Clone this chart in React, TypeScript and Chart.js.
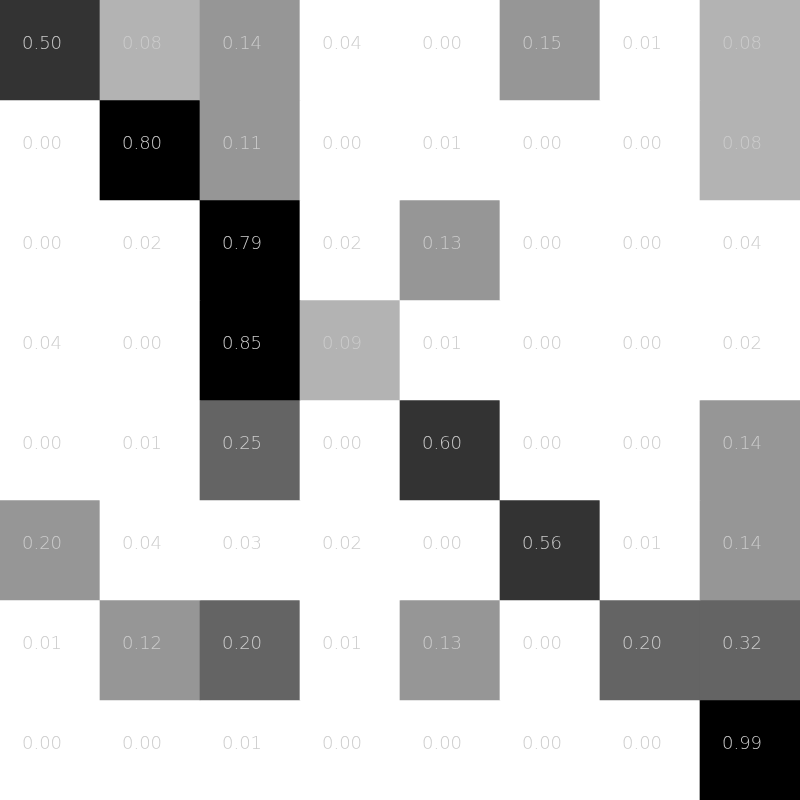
import React, { useEffect, useRef } from "react";
import { Chart, registerables } from "chart.js";

Chart.register(...registerables);

const columns = ["C1", "C2", "C3", "C4", "C5", "C6", "C7", "C8"];
const rowLabels = ["R1", "R2", "R3", "R4", "R5", "R6", "R7", "R8"];
const row1 = [0.50, 0.08, 0.14, 0.04, 0.00, 0.15, 0.01, 0.08];
const row2 = [0.00, 0.80, 0.11, 0.00, 0.01, 0.00, 0.00, 0.08];
const row3 = [0.00, 0.02, 0.79, 0.02, 0.13, 0.00, 0.00, 0.04];
const row4 = [0.04, 0.00, 0.85, 0.09, 0.01, 0.00, 0.00, 0.02];
const row5 = [0.00, 0.01, 0.25, 0.00, 0.60, 0.00, 0.00, 0.14];
const row6 = [0.198, 0.04, 0.03, 0.02, 0.00, 0.56, 0.01, 0.14];
const row7 = [0.01, 0.12, 0.203, 0.01, 0.13, 0.00, 0.202, 0.32];
const row8 = [0.00, 0.00, 0.01, 0.00, 0.00, 0.00, 0.00, 0.99];
const rows = [row1, row2, row3, row4, row5, row6, row7, row8];

function colorFor(v: number): string {
  if (v < 0.05) return "#ffffff";
  if (v < 0.1) return "#b3b3b3";
  if (v < 0.2) return "#969696";
  if (v < 0.4) return "#646464";
  if (v < 0.7) return "#333333";
  return "#000000";
}

const labelPlugin = {
  id: "cellLabels",
  afterDatasetsDraw(chart: any) {
    const ctx = chart.ctx;
    ctx.save();
    ctx.font = "200 18px 'DejaVu Sans'";
    ctx.fillStyle = "#cccccc";
    ctx.textAlign = "center";
    ctx.textBaseline = "middle";
    chart.data.datasets.forEach((ds: any, di: number) => {
      const meta = chart.getDatasetMeta(di);
      meta.data.forEach((el: any, i: number) => {
        const v = ds.values[i];
        const cx = el.x;
        const top = Math.min(el.y, el.base);
        const bottom = Math.max(el.y, el.base);
        const cy = (top + bottom) / 2;
        ctx.fillText(v.toFixed(2), cx - 8, cy - 6);
      });
    });
    ctx.restore();
  },
};

export default function App() {
  const ref = useRef<HTMLCanvasElement | null>(null);
  useEffect(() => {
    document.body.style.margin = "0";
    if (!ref.current) return;
    const chart = new Chart(ref.current, {
      type: "bar",
      data: {
        labels: columns,
        datasets: rows.map((r, ri) => ({
          label: rowLabels[ri],
          data: r.map(() => 1),
          values: r,
          backgroundColor: r.map(colorFor),
          borderWidth: 0,
          barPercentage: 1,
          categoryPercentage: 1,
        })) as any,
      },
      options: {
        animation: false,
        responsive: false,
        maintainAspectRatio: false,
        layout: { padding: 0 },
        plugins: { legend: { display: false }, tooltip: { enabled: false } },
        scales: {
          x: { display: false, stacked: true, offset: true, grid: { display: false } },
          y: { display: false, stacked: true, reverse: true, min: 0, max: 8, grid: { display: false } },
        },
      },
      plugins: [labelPlugin],
    });
    return () => chart.destroy();
  }, []);
  return (
    <div style={{ width: 800, height: 800, background: "#ffffff" }}>
      <canvas ref={ref} width={800} height={800} style={{ display: "block" }} />
    </div>
  );
}
